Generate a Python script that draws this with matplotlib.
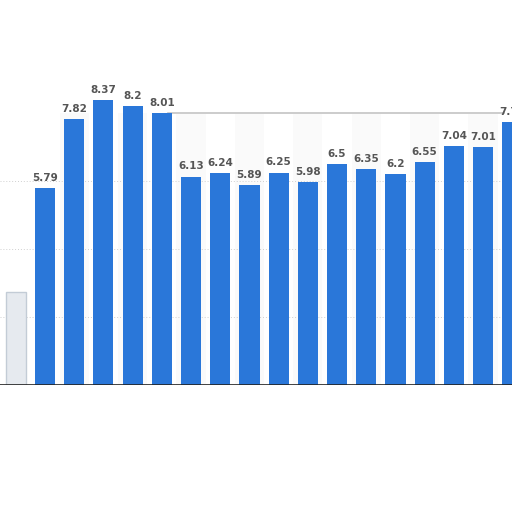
import matplotlib.pyplot as plt
import numpy as np

# values
values = [5.79, 7.82, 8.37, 8.2, 8.01, 6.13, 6.24, 5.89, 6.25, 5.98,
          6.5, 6.35, 6.2, 6.55, 7.04, 7.01, 7.74]
labels = ['5.79', '7.82', '8.37', '8.2', '8.01', '6.13', '6.24', '5.89', '6.25',
          '5.98', '6.5', '6.35', '6.2', '6.55', '7.04', '7.01', '7.74']
ghost_value = 2.75  # faded bar at the left edge

fig = plt.figure(figsize=(5.12, 5.12), dpi=100)
ax = fig.add_axes([0, 127 / 512, 1, 340 / 512])

x = np.arange(1, len(values) + 1)

# faint alternating column bands
for xi in x[1::2]:
    ax.axvspan(xi - 0.5, xi + 0.5, ymin=0, ymax=0.8, color='#fafafa', zorder=0, lw=0)

for yv in [2, 4, 6]:
    ax.axhline(yv, color='#d0d0d0', lw=0.7, ls=(0, (1, 2)), zorder=1)
ax.plot([5.2, 16.7], [8, 8], color='#c4c4c4', lw=1.2, zorder=1)

ax.bar([0], [ghost_value], width=0.69, color='#e6eaef', edgecolor='#c3ccd6', lw=1, zorder=2)
ax.bar(x, values, width=0.69, color='#2a77d9', zorder=3)

for xi, v, lab in zip(x, values, labels):
    ax.text(xi, v + 0.15, lab, ha='center', va='bottom', fontsize=7.5,
            fontweight='semibold', color='#555555', zorder=4)

ax.axhline(0, color='#222222', lw=1.2, zorder=5)

ax.set_xlim(-0.54, 16.99)
ax.set_ylim(0, 10)
ax.axis('off')

fig.savefig('out.png', dpi=100)
